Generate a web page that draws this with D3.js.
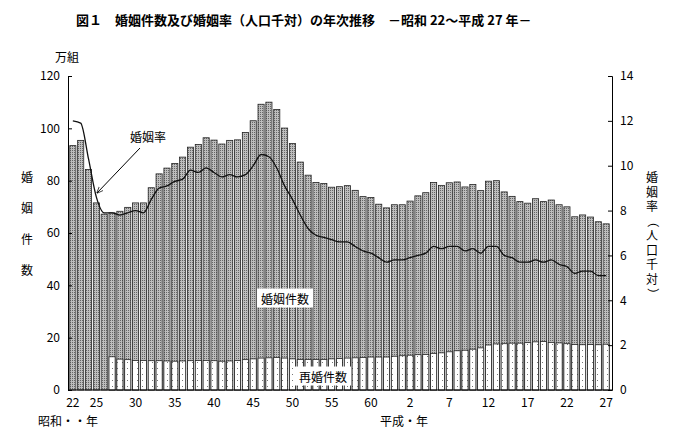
<!DOCTYPE html>
<html><head><meta charset="utf-8">
<script src="https://cdn.jsdelivr.net/npm/d3@7"></script>
<style>body{margin:0;background:#fff}text{font-family:"Noto Sans CJK JP","Noto Sans",sans-serif}</style>
</head><body><div id="chart"></div>
<script>
// 昭和22年(1947) 〜 平成27年(2015)
const years = d3.range(1947, 2016);
const marriages = [93.4,95.4,84.3,71.5,67.2,67.7,68.3,69.8,71.5,71.5,77.3,82.6,84.8,86.6,89.0,92.8,93.8,96.4,95.5,94.0,95.4,95.6,98.4,102.9,109.2,110.0,107.2,100.1,94.2,87.1,82.1,79.3,78.9,77.5,77.7,78.1,76.3,73.9,73.6,71.0,69.6,70.8,70.8,72.2,74.2,75.4,79.3,78.2,79.2,79.5,77.6,78.5,76.2,79.8,80.0,75.7,74.0,72.0,71.4,73.1,72.0,72.6,70.8,70.0,66.2,66.9,66.1,64.3,63.5];
const remarriages = [null,null,null,null,null,12.7,11.8,11.6,11.3,11.3,11.2,11.2,11.1,11.0,11.1,11.2,11.3,11.3,11.2,11.0,11.1,11.3,11.6,11.9,12.2,12.3,12.4,12.2,11.9,11.7,11.7,11.7,11.7,11.9,12.0,12.2,12.3,12.4,12.6,12.6,12.6,12.9,13.1,13.3,13.5,13.6,14.0,14.2,14.6,15.0,15.2,15.6,16.1,17.2,17.6,17.7,17.9,17.9,18.1,18.4,18.5,18.2,18.0,17.7,17.4,17.3,17.4,17.3,17.5];
const rates = [12.0,11.9,10.3,8.6,7.9,7.9,7.8,7.9,8.0,7.9,8.5,9.0,9.1,9.3,9.4,9.8,9.7,9.9,9.7,9.5,9.6,9.5,9.6,10.0,10.5,10.4,9.9,9.1,8.5,7.8,7.2,6.9,6.8,6.7,6.6,6.6,6.4,6.2,6.1,5.9,5.7,5.8,5.8,5.9,6.0,6.1,6.4,6.3,6.4,6.4,6.2,6.3,6.1,6.4,6.4,6.0,5.9,5.7,5.7,5.8,5.7,5.8,5.6,5.5,5.2,5.3,5.3,5.1,5.1];
const tickYears = [1947,1950,1955,1960,1965,1970,1975,1980,1985,1990,1995,2000,2005,2010,2015];
const tickLabels = ["22","25","30","35","40","45","50","55","60","2","7","12","17","22","27"];
const leftTicks = [0,20,40,60,80,100,120];
const rightTicks = [0,2,4,6,8,10,12,14];

const W = 682, H = 437, mL = 68, mR = 612, mT = 76, mB = 390;
const svg = d3.select('#chart').append('svg').attr('width', W).attr('height', H);

const defs = svg.append('defs');
const pg = defs.append('pattern').attr('id', 'grey').attr('width', 2).attr('height', 2).attr('patternUnits', 'userSpaceOnUse');
pg.append('rect').attr('width', 2).attr('height', 2).attr('fill', '#bdbdbd');
pg.append('rect').attr('width', 1).attr('height', 1).attr('fill', '#666');
const pw = defs.append('pattern').attr('id', 'white').attr('width', 5).attr('height', 6).attr('patternUnits', 'userSpaceOnUse');
pw.append('rect').attr('width', 5).attr('height', 6).attr('fill', '#fff');
pw.append('rect').attr('x', 2).attr('y', 2).attr('width', 1).attr('height', 1).attr('fill', '#777');

const x = d3.scaleBand().domain(years).range([mL + 1, mR - 2]).paddingInner(0.22).paddingOuter(0.1);
const y = d3.scaleLinear().domain([0, 120]).range([mB, mT]);
const yr = d3.scaleLinear().domain([0, 14]).range([mB, mT]);

// bars
svg.append('g').selectAll('rect').data(years).join('rect')
  .attr('x', d => x(d)).attr('width', x.bandwidth())
  .attr('y', (d, i) => y(marriages[i])).attr('height', (d, i) => mB - y(marriages[i]))
  .attr('fill', 'url(#grey)').attr('stroke', '#222').attr('stroke-width', 0.8);
svg.append('g').selectAll('rect').data(years.filter((d, i) => remarriages[i] != null)).join('rect')
  .attr('x', d => x(d)).attr('width', x.bandwidth())
  .attr('y', d => y(remarriages[years.indexOf(d)])).attr('height', d => mB - y(remarriages[years.indexOf(d)]))
  .attr('fill', 'url(#white)').attr('stroke', '#222').attr('stroke-width', 0.8);

// rate line
const line = d3.line().x((d, i) => x(years[i]) + x.bandwidth() / 2).y(d => yr(d)).curve(d3.curveMonotoneX);
svg.append('path').datum(rates).attr('d', line).attr('fill', 'none').attr('stroke', '#111').attr('stroke-width', 1.3);

// axes
const gl = svg.append('g').attr('transform', `translate(${mL},0)`)
  .call(d3.axisLeft(y).tickValues(leftTicks).tickSize(-4).tickPadding(8));
const gr = svg.append('g').attr('transform', `translate(${mR},0)`)
  .call(d3.axisRight(yr).tickValues(rightTicks).tickSize(-4).tickPadding(8));
const gb = svg.append('g').attr('transform', `translate(0,${mB})`)
  .call(d3.axisBottom(x).tickValues(tickYears).tickSize(0).tickPadding(8).tickFormat((d, i) => tickLabels[i]));
[gl, gr, gb].forEach(g => { g.selectAll('text').attr('font-size', 12).attr('fill', '#000'); g.selectAll('path,line').attr('stroke', '#000'); });
gb.select('.domain').attr('d', `M${mL},0H${mR}`);

// texts
svg.append('text').attr('x', 76).attr('y', 25).attr('font-size', 13).attr('font-weight', 'bold')
  .text('図１　婚姻件数及び婚姻率（人口千対）の年次推移　－昭和 22～平成 27 年－');
svg.append('text').attr('x', 55).attr('y', 62).attr('font-size', 12).text('万組');
['婚', '姻', '件', '数'].forEach((c, i) => svg.append('text').attr('x', 27).attr('y', 182 + i * 31).attr('font-size', 12).attr('text-anchor', 'middle').text(c));
['婚', '姻', '率', '（', '人', '口', '千', '対', '）'].forEach((c, i) => svg.append('text').attr('x', 652).attr('y', 182 + i * 14.5).attr('font-size', 12).attr('text-anchor', 'middle')
  .attr('transform', '（）'.includes(c) ? `rotate(90,652,${178 + i * 14.5})` : null).text(c));
svg.append('text').attr('x', 38).attr('y', 426).attr('font-size', 12).text('昭和・・年');
svg.append('text').attr('x', 380).attr('y', 426).attr('font-size', 12).text('平成・年');

const lab = (t, cx, cy) => {
  const g = svg.append('g');
  const tx = g.append('text').attr('x', cx).attr('y', cy).attr('font-size', 12).attr('text-anchor', 'middle').attr('dominant-baseline', 'central').text(t);
  const b = tx.node().getBBox();
  g.insert('rect', 'text').attr('x', b.x - 4).attr('y', b.y - 1).attr('width', b.width + 8).attr('height', b.height + 2).attr('fill', '#fff');
};
lab('婚姻件数', 285, 298);
lab('再婚件数', 323, 376);

svg.append('text').attr('x', 148).attr('y', 142).attr('font-size', 12).attr('text-anchor', 'middle').attr('fill', '#000').text('婚姻率');
defs.append('marker').attr('id', 'arr').attr('viewBox', '0 0 10 10').attr('refX', 9).attr('refY', 5)
  .attr('markerWidth', 7).attr('markerHeight', 7).attr('orient', 'auto')
  .append('path').attr('d', 'M0,1L10,5L0,9').attr('fill', 'none').attr('stroke', '#000');
svg.append('line').attr('x1', 140).attr('y1', 148).attr('x2', 97).attr('y2', 193).attr('stroke', '#000').attr('marker-end', 'url(#arr)');
</script></body></html>
